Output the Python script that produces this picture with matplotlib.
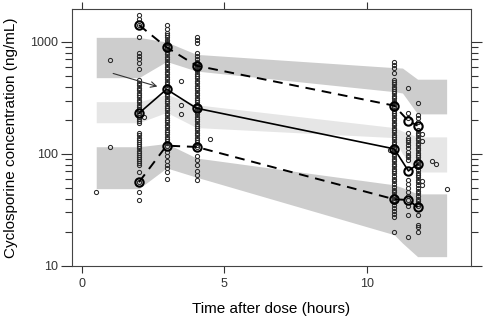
import numpy as np
import matplotlib
matplotlib.use("Agg")
import matplotlib.pyplot as plt
from matplotlib.ticker import LogLocator, NullFormatter, FixedLocator

plt.rcParams['font.family'] = ['Liberation Sans', 'DejaVu Sans']

# observed concentrations (ng/mL) by nominal sampling time (h)
obs_t2 = [1740, 1600, 1420, 1100, 800, 750, 700, 655, 570,
          455, 430, 410, 390, 370, 350, 335, 320, 305, 290, 275, 262, 250, 240,
          230, 222, 212, 204, 196, 189,
          154, 147, 140, 134, 128, 122, 117, 112, 107, 102, 98, 94, 90, 86, 83,
          80, 69.5, 56, 46, 38.8]
obs_t3 = [1418, 1300, 1196, 1150, 1100, 1050, 1000, 973, 940, 900, 860, 820, 780,
          740, 700, 665, 630, 600, 570, 540, 515, 490, 465, 440, 420, 400, 380,
          362, 345, 328, 312, 297, 283, 270, 257, 245, 233, 222, 211, 201, 191,
          182, 173, 165, 157, 150, 143, 136, 130, 124, 118,
          105, 95, 87, 80, 75, 69.5, 60]
obs_t4 = [1100, 1040, 986, 790, 750, 705, 667, 635, 605, 575, 548, 522, 497, 473,
          450, 428, 408, 388, 370, 352, 335, 319, 304, 290, 276, 263, 250, 238,
          227, 216, 206, 196, 187, 178, 170, 162, 154, 147, 140, 133, 127, 121, 116,
          96, 88, 79, 71, 65, 58.6]
obs_t11 = [667, 623, 583, 526, 458, 440, 420, 400, 382, 365, 348, 332, 315, 300,
           285, 270, 256, 244, 232, 221, 210, 200, 190, 181, 172, 164, 156, 149,
           142, 135, 128, 122, 116, 110, 105, 100, 95, 90, 86, 82, 78, 74, 70, 67,
           63, 60, 57, 54, 51, 48, 45.5, 43, 41, 39, 37, 35, 33, 31, 29, 27.5, 20.2]
obs_t11b = [387, 231, 210, 153, 138, 133, 129, 120.5, 112, 105, 98.5, 93, 88,
            58.6, 54, 50, 46, 42, 38.8, 34, 28.5, 18.3]
obs_t12 = [284, 223, 208, 194, 164, 155, 147, 140, 133, 126, 120, 114, 108, 103,
           98, 93, 88, 84, 80, 76, 72, 68, 65, 62, 59, 56, 53, 50, 47, 44.5, 42,
           40, 38, 36, 34, 28.5, 23.2, 22.3, 20]
col_times = [2.0, 2.97, 4.02, 10.96, 11.46, 11.78]

# off-nominal samples
extra_t = [0.49, 1.0, 1.0, 2.18, 3.47, 3.47, 3.47, 4.49, 10.8, 11.95, 11.95,
           11.95, 11.95, 12.29, 12.44, 12.8]
extra_c = [46, 690, 116, 215, 449, 274, 228, 135, 108, 150, 130, 57, 52.7,
           86.6, 81, 48.4]

# observed percentiles
pct_t = [2.0, 2.97, 4.02, 10.96, 11.46, 11.78]
p05 = [56, 118.6, 115.5, 39.4, 38.8, 33.4]
p50 = [231, 378, 256, 111, 70.5, 81]
p95 = [1418, 896, 614, 270, 197, 179]

# simulated prediction intervals (shaded)
band_t = [0.5, 2.0, 2.97, 4.02, 10.96, 11.25, 11.78, 12.8]
hi_top = [1100, 1100, 1000, 775, 590, 585, 465, 465]
hi_bot = [480, 480, 670, 550, 360, 350, 228, 228]
mid_top = [293, 293, 340, 275, 172, 160, 142, 142]
mid_bot = [190, 190, 235, 172, 140, 100, 69, 69]
lo_top = [116, 116, 124, 92, 53, 50, 44, 44]
lo_bot = [49, 49, 75, 62, 19, 16, 12.1, 12.1]

fig = plt.figure(figsize=(4.84, 3.20), dpi=100)
ax = fig.add_axes([0.1488, 0.169, 0.824, 0.803])

ax.fill_between(band_t, hi_bot, hi_top, color='#cdcdcd', lw=0, zorder=1)
ax.fill_between(band_t, mid_bot, mid_top, color='#e6e6e6', lw=0, zorder=1)
ax.fill_between(band_t, lo_bot, lo_top, color='#cdcdcd', lw=0, zorder=1)

cols = [obs_t2, obs_t3, obs_t4, obs_t11, obs_t11b, obs_t12]
for t, c in zip(col_times, cols):
    ax.plot([t] * len(c), c, 'o', ms=3, mfc='none', mec='#2a2a2a', mew=0.75, zorder=3)
ax.plot(extra_t, extra_c, 'o', ms=3, mfc='none', mec='#2a2a2a', mew=0.75, zorder=3)

ax.plot(pct_t, p50, '-', color='black', lw=1.2, zorder=4)
ax.plot(pct_t, p95, '--', color='black', lw=1.4, dashes=(5, 3.5), zorder=4)
ax.plot(pct_t, p05, '--', color='black', lw=1.4, dashes=(5, 3.5), zorder=4)
for y in [p50, p95, p05]:
    ax.plot(pct_t, y, 'o', ms=6, mfc='none', mec='black', mew=1.5, zorder=5)

ax.annotate('', xy=(2.74, 394), xytext=(1.0, 532),
            arrowprops=dict(arrowstyle='->', color='#333333', lw=0.8), zorder=6)

ax.set_yscale('log')
ax.set_xlim(-0.35, 13.65)
ax.set_ylim(10, 1972)
ax.set_xticks([0, 5, 10])
ax.yaxis.set_major_locator(FixedLocator([10, 100, 1000]))
ax.set_yticklabels(['10', '100', '1000'])
ax.yaxis.set_minor_locator(LogLocator(base=10, subs=np.arange(2, 10)))
ax.yaxis.set_minor_formatter(NullFormatter())
ax.tick_params(axis='both', which='both', direction='out', colors='#333333',
               labelsize=9, width=0.8, top=True, right=True,
               labeltop=False, labelright=False)
ax.tick_params(axis='y', which='major', length=8, pad=2)
ax.tick_params(axis='y', which='minor', length=5)
ax.tick_params(axis='x', which='major', length=5, pad=4)
for s in ax.spines.values():
    s.set_color('#444444')
    s.set_linewidth(0.8)

ax.set_xlabel('Time after dose (hours)', fontsize=11, labelpad=8)
ax.set_ylabel('Cyclosporine concentration (ng/mL)', fontsize=11, labelpad=9)

fig.savefig('out.png', dpi=100)
